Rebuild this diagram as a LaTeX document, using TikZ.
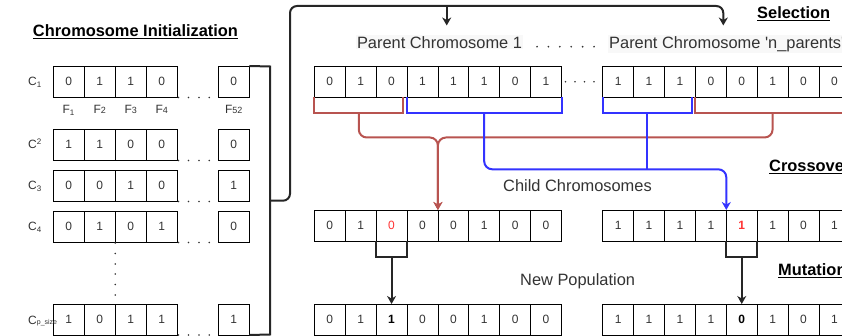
\documentclass[tikz,border=0pt]{standalone}
\usepackage{fontspec}
\setmainfont{Liberation Sans}
\usetikzlibrary{arrows.meta,calc}
\definecolor{txtgray}{RGB}{51,51,51}
\definecolor{bred}{RGB}{184,84,80}
\definecolor{bblue}{RGB}{51,51,255}
\definecolor{rdigit}{RGB}{255,51,51}
\definecolor{lblbg}{RGB}{248,248,248}
\newcommand\cellrow[5]{%
  \foreach \v [count=\i] in {#5} {%
    \node[cellbox, minimum width=#4pt] (#1-\i) at ({#2+(\i-1)*#4},#3) {\v};%
  }}
\begin{document}
\begin{tikzpicture}[x=1pt,y=-1pt,
  cellbox/.style={draw=black, line width=0.8pt, minimum width=31pt, minimum height=31pt,
    inner sep=0pt, outer sep=0pt, anchor=north west, font=\fontsize{12}{14}\selectfont, text=txtgray},
  lbl/.style={font=\fontsize{16.4}{19}\selectfont, text=txtgray, inner sep=0pt},
  ttl/.style={font=\fontsize{16.4}{19}\selectfont\bfseries, text=black, inner sep=0pt},
  rowlbl/.style={font=\fontsize{12}{14}\selectfont, text=txtgray, inner sep=0pt, anchor=base west},
  flbl/.style={font=\fontsize{12}{14}\selectfont, text=txtgray, inner sep=0pt, anchor=base},
  redln/.style={draw=bred, line width=2pt},
  blueln/.style={draw=bblue, line width=2pt},
  blkln/.style={draw=black!85, line width=2pt},
  tip/.style={-{Stealth[length=8pt,width=9pt,inset=2.5pt]}},
  dotmark/.style={fill=txtgray},
]
\useasboundingbox (0,0) rectangle (842,336);
\clip (0,0) rectangle (842,336);

% ---------- left column ----------
\node[ttl, anchor=base] (tInit) at (135.5,36.5) {\underline{Chromosome Initialization}};

\cellrow{L1}{53.3}{66}{31}{0,1,1,0}
\node[cellbox] (L1-5) at (218.3,66) {0};
\cellrow{L2}{53.3}{129}{31}{1,1,0,0}
\node[cellbox] (L2-5) at (218.3,129) {0};
\cellrow{L3}{53.3}{170}{31}{0,0,1,0}
\node[cellbox] (L3-5) at (218.3,170) {1};
\cellrow{L4}{53.3}{211}{31}{0,1,0,1}
\node[cellbox] (L4-5) at (218.3,211) {0};
\cellrow{L5}{53.3}{304}{31}{1,0,1,1}
\node[cellbox] (L5-5) at (218.3,304) {1};

\node[rowlbl] (lc1) at (28,86) {C\textsubscript{1}};
\node[rowlbl] (lc2) at (28,149) {C\textsuperscript{2}};
\node[rowlbl] (lc3) at (28,190) {C\textsubscript{3}};
\node[rowlbl] (lc4) at (28,231) {C\textsubscript{4}};
\node[rowlbl] (lc5) at (28,324) {C{\fontsize{7}{8}\selectfont p\_size}};

\node[flbl] (f1) at ($(L1-1.south)+(0,17)$) {F\textsubscript{1}};
\node[flbl] (f2) at ($(L1-2.south)+(0,17)$) {F{\fontsize{9}{10}\selectfont 2}};
\node[flbl] (f3) at ($(L1-3.south)+(0,17)$) {F{\fontsize{9}{10}\selectfont 3}};
\node[flbl] (f4) at ($(L1-4.south)+(0,17)$) {F{\fontsize{9}{10}\selectfont 4}};
\node[flbl] (f52) at ($(L1-5.south)+(0,17)$) {F{\fontsize{9}{10}\selectfont 52}};

% horizontal dots after each left row
\foreach \yy in {97.5,160.5,201.5,242.5,335} {
  \foreach \xx in {178.5,188.5,199,209.3} {
    \fill[dotmark] (\xx,\yy) circle (0.9);
  }
}
% vertical dots
\foreach \yy in {243,253.5,264,274,284.5,295} {
  \fill[dotmark] (115.3,\yy) circle (0.9);
}

% ---------- big black bracket and selection arrows ----------
\coordinate (bkT) at (270,66.5);
\coordinate (bkB) at (270,334.5);
\coordinate (bkJ) at (270,200.7);
\coordinate (bkJ2) at (290,200.7);
\coordinate (bkTop) at (290,6);
\coordinate (selA) at (446.7,6);
\coordinate (selB) at (723.3,6);
\coordinate (arr1) at (446.7,25.5);
\coordinate (arr2) at (723.3,25.5);
\draw[blkln] (L1-5.north east) -- (bkT) -- (bkB) -- (L5-5.south east);
\draw[blkln, rounded corners=7, tip] (bkJ) -- (bkJ2) -- (bkTop) -- (selB) -- (arr2);
\draw[blkln, tip] (selA) -- (arr1);

% ---------- selection ----------
\node[ttl, anchor=base west] (tSel) at (757,18.3) {\underline{Selection}};
\node[lbl, anchor=base, fill=lblbg, inner sep=1pt] (pc1) at (439.5,48.3) {Parent Chromosome 1};
\node[lbl, anchor=base west, fill=lblbg, inner sep=1pt] (pcn) at (608,48.3) {Parent Chromosome \textquotesingle n\_parents\textquotesingle};
\foreach \xx in {537,548.4,559.8,571.2,582.6,594} {
  \fill[dotmark] (\xx,46.7) circle (0.95);
}

\cellrow{P1}{314.3}{66}{30.9}{0,1,0,1,1,1,0,1}
\cellrow{PN}{602.7}{66}{30.9}{1,1,1,0,0,1,0,0}
\foreach \xx in {565.5,575,584.5,594} {
  \fill[dotmark] (\xx,81.7) circle (0.9);
}

% crossover brackets
\draw[redln] (P1-1.south west) -- ++(0,16) -- ($(P1-3.south east)+(-3.7,16)$) -- ($(P1-3.south east)+(-3.7,0)$);
\draw[blueln] (P1-4.south west) -- ++(0,16) -| (P1-8.south east);
\draw[blueln] (PN-1.south west) -- ++(0,16) -- ($(PN-3.south east)+(-3.7,16)$) -- ($(PN-3.south east)+(-3.7,0)$);
\draw[redln] (PN-4.south west) -- ++(0,16) -| (PN-8.south east);

\coordinate (rc1) at (358.8,113.3);
\coordinate (bc1) at (484.2,113.3);
\coordinate (bc2) at (647.2,113.3);
\coordinate (rc2) at (772.6,113.3);

\node[ttl, anchor=base west] (tCross) at (769,171.7) {\underline{Crossover}};
\node[lbl, anchor=base west] (child) at (503,191.7) {Child Chromosomes};

\cellrow{C1}{314.3}{210}{30.9}{0,1,\textcolor{rdigit}{0},0,0,1,0,0}
\cellrow{C2}{602.7}{210}{30.9}{1,1,1,1,\textcolor{rdigit}{\textbf{1}},1,0,1}

\draw[redln, rounded corners=8, tip] (rc1) -- (358.8,137.5) -| (C1-4.north east);
\draw[redln, rounded corners=8, tip] (rc2) -- (772.6,137.5) -| (C1-4.north east);
\draw[blueln, rounded corners=8, tip] (bc1) -- (484.2,169.3) -| (C2-4.north east);
\draw[blueln] (bc2) -- (647.2,169.3);

% ---------- mutation ----------
\node[ttl, anchor=base west] (tMut) at (778,275.7) {\underline{Mutation}};
\node[lbl, anchor=base west] (newpop) at (520,285) {New Population};

\cellrow{N1}{314.3}{304}{30.9}{0,1,\textcolor{black}{\textbf{1}},0,0,1,0,0}
\cellrow{N2}{602.7}{304}{30.9}{1,1,1,1,\textcolor{black}{\textbf{0}},1,0,1}

\draw[blkln] (C1-3.south west) -- ++(0,16.5) -| (C1-3.south east);
\draw[blkln, tip] ($(C1-3.south)+(0,16.5)$) -- (N1-3.north);
\draw[blkln] (C2-5.south west) -- ++(0,16.5) -| (C2-5.south east);
\draw[blkln, tip] ($(C2-5.south)+(0,16.5)$) -- (N2-5.north);
\end{tikzpicture}
\end{document}
